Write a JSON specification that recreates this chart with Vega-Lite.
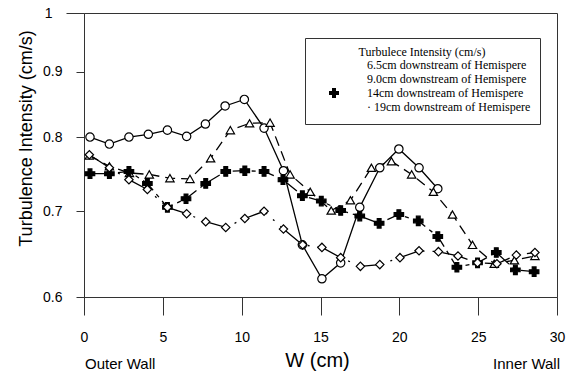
{
  "$schema": "https://vega.github.io/schema/vega-lite/v6.json",
  "width": 473,
  "height": 284,
  "autosize": {"type": "none"},
  "padding": {"left": 84, "top": 13, "right": 14, "bottom": 75},
  "background": "white",
  "config": {
    "view": {"stroke": "#333", "strokeWidth": 1},
    "axis": {
      "labelFont": "Liberation Sans", "labelFontSize": 14, "labelColor": "black",
      "titleFont": "Liberation Sans", "titleFontWeight": "normal", "titleColor": "black",
      "domainColor": "#333", "tickColor": "#333", "grid": false
    },
    "legend": {
      "padding": 9, "strokeColor": "#333", "fillColor": "white",
      "titleFont": "Liberation Serif", "titleFontSize": 12, "titleFontWeight": "normal", "titleColor": "black",
      "labelFont": "Liberation Serif", "labelFontSize": 12, "labelColor": "black"
    }
  },
  "datasets": {
    "ti": [
      {"series": "6.5cm downstream of Hemispere", "w": 0.38, "ti": 0.800},
      {"series": "6.5cm downstream of Hemispere", "w": 1.61, "ti": 0.790},
      {"series": "6.5cm downstream of Hemispere", "w": 2.85, "ti": 0.800},
      {"series": "6.5cm downstream of Hemispere", "w": 4.08, "ti": 0.804},
      {"series": "6.5cm downstream of Hemispere", "w": 5.29, "ti": 0.810},
      {"series": "6.5cm downstream of Hemispere", "w": 6.51, "ti": 0.801},
      {"series": "6.5cm downstream of Hemispere", "w": 7.70, "ti": 0.819},
      {"series": "6.5cm downstream of Hemispere", "w": 8.95, "ti": 0.846},
      {"series": "6.5cm downstream of Hemispere", "w": 10.17, "ti": 0.856},
      {"series": "6.5cm downstream of Hemispere", "w": 11.42, "ti": 0.813},
      {"series": "6.5cm downstream of Hemispere", "w": 12.65, "ti": 0.753},
      {"series": "6.5cm downstream of Hemispere", "w": 13.85, "ti": 0.659},
      {"series": "6.5cm downstream of Hemispere", "w": 15.09, "ti": 0.620},
      {"series": "6.5cm downstream of Hemispere", "w": 16.28, "ti": 0.638},
      {"series": "6.5cm downstream of Hemispere", "w": 17.49, "ti": 0.705},
      {"series": "6.5cm downstream of Hemispere", "w": 18.76, "ti": 0.757},
      {"series": "6.5cm downstream of Hemispere", "w": 19.97, "ti": 0.783},
      {"series": "6.5cm downstream of Hemispere", "w": 21.25, "ti": 0.757},
      {"series": "6.5cm downstream of Hemispere", "w": 22.44, "ti": 0.729},

      {"series": "9.0cm downstream of Hemispere", "w": 0.34, "ti": 0.774},
      {"series": "9.0cm downstream of Hemispere", "w": 1.61, "ti": 0.759},
      {"series": "9.0cm downstream of Hemispere", "w": 2.88, "ti": 0.750},
      {"series": "9.0cm downstream of Hemispere", "w": 4.14, "ti": 0.748},
      {"series": "9.0cm downstream of Hemispere", "w": 5.45, "ti": 0.743},
      {"series": "9.0cm downstream of Hemispere", "w": 6.72, "ti": 0.742},
      {"series": "9.0cm downstream of Hemispere", "w": 8.03, "ti": 0.770},
      {"series": "9.0cm downstream of Hemispere", "w": 9.28, "ti": 0.810},
      {"series": "9.0cm downstream of Hemispere", "w": 10.5, "ti": 0.820},
      {"series": "9.0cm downstream of Hemispere", "w": 11.8, "ti": 0.821},
      {"series": "9.0cm downstream of Hemispere", "w": 13.07, "ti": 0.748},
      {"series": "9.0cm downstream of Hemispere", "w": 14.35, "ti": 0.725},
      {"series": "9.0cm downstream of Hemispere", "w": 15.68, "ti": 0.701},
      {"series": "9.0cm downstream of Hemispere", "w": 16.9, "ti": 0.714},
      {"series": "9.0cm downstream of Hemispere", "w": 18.23, "ti": 0.757},
      {"series": "9.0cm downstream of Hemispere", "w": 19.5, "ti": 0.766},
      {"series": "9.0cm downstream of Hemispere", "w": 20.78, "ti": 0.748},
      {"series": "9.0cm downstream of Hemispere", "w": 22.16, "ti": 0.725},
      {"series": "9.0cm downstream of Hemispere", "w": 23.37, "ti": 0.696},
      {"series": "9.0cm downstream of Hemispere", "w": 24.64, "ti": 0.659},
      {"series": "9.0cm downstream of Hemispere", "w": 26.02, "ti": 0.637},
      {"series": "9.0cm downstream of Hemispere", "w": 27.3, "ti": 0.641},
      {"series": "9.0cm downstream of Hemispere", "w": 28.6, "ti": 0.646},

      {"series": "14cm downstream of Hemispere", "w": 0.38, "ti": 0.749},
      {"series": "14cm downstream of Hemispere", "w": 1.61, "ti": 0.749},
      {"series": "14cm downstream of Hemispere", "w": 2.85, "ti": 0.752},
      {"series": "14cm downstream of Hemispere", "w": 4.02, "ti": 0.736},
      {"series": "14cm downstream of Hemispere", "w": 5.29, "ti": 0.705},
      {"series": "14cm downstream of Hemispere", "w": 6.47, "ti": 0.716},
      {"series": "14cm downstream of Hemispere", "w": 7.72, "ti": 0.736},
      {"series": "14cm downstream of Hemispere", "w": 8.99, "ti": 0.752},
      {"series": "14cm downstream of Hemispere", "w": 10.2, "ti": 0.753},
      {"series": "14cm downstream of Hemispere", "w": 11.42, "ti": 0.752},
      {"series": "14cm downstream of Hemispere", "w": 12.62, "ti": 0.741},
      {"series": "14cm downstream of Hemispere", "w": 13.85, "ti": 0.720},
      {"series": "14cm downstream of Hemispere", "w": 15.05, "ti": 0.713},
      {"series": "14cm downstream of Hemispere", "w": 16.28, "ti": 0.701},
      {"series": "14cm downstream of Hemispere", "w": 17.49, "ti": 0.694},
      {"series": "14cm downstream of Hemispere", "w": 18.72, "ti": 0.685},
      {"series": "14cm downstream of Hemispere", "w": 19.97, "ti": 0.696},
      {"series": "14cm downstream of Hemispere", "w": 21.2, "ti": 0.688},
      {"series": "14cm downstream of Hemispere", "w": 22.44, "ti": 0.669},
      {"series": "14cm downstream of Hemispere", "w": 23.65, "ti": 0.633},
      {"series": "14cm downstream of Hemispere", "w": 24.96, "ti": 0.638},
      {"series": "14cm downstream of Hemispere", "w": 26.15, "ti": 0.650},
      {"series": "14cm downstream of Hemispere", "w": 27.36, "ti": 0.630},
      {"series": "14cm downstream of Hemispere", "w": 28.55, "ti": 0.628},

      {"series": "19cm downstream of Hemispere", "w": 0.34, "ti": 0.775},
      {"series": "19cm downstream of Hemispere", "w": 1.61, "ti": 0.757},
      {"series": "19cm downstream of Hemispere", "w": 2.85, "ti": 0.741},
      {"series": "19cm downstream of Hemispere", "w": 4.02, "ti": 0.728},
      {"series": "19cm downstream of Hemispere", "w": 5.29, "ti": 0.705},
      {"series": "19cm downstream of Hemispere", "w": 6.51, "ti": 0.697},
      {"series": "19cm downstream of Hemispere", "w": 7.72, "ti": 0.687},
      {"series": "19cm downstream of Hemispere", "w": 8.99, "ti": 0.680},
      {"series": "19cm downstream of Hemispere", "w": 10.2, "ti": 0.691},
      {"series": "19cm downstream of Hemispere", "w": 11.42, "ti": 0.700},
      {"series": "19cm downstream of Hemispere", "w": 12.65, "ti": 0.678},
      {"series": "19cm downstream of Hemispere", "w": 13.87, "ti": 0.659},
      {"series": "19cm downstream of Hemispere", "w": 15.09, "ti": 0.656},
      {"series": "19cm downstream of Hemispere", "w": 16.28, "ti": 0.644},
      {"series": "19cm downstream of Hemispere", "w": 17.53, "ti": 0.634},
      {"series": "19cm downstream of Hemispere", "w": 18.76, "ti": 0.636},
      {"series": "19cm downstream of Hemispere", "w": 20.04, "ti": 0.644},
      {"series": "19cm downstream of Hemispere", "w": 21.25, "ti": 0.652},
      {"series": "19cm downstream of Hemispere", "w": 22.48, "ti": 0.651},
      {"series": "19cm downstream of Hemispere", "w": 23.72, "ti": 0.646},
      {"series": "19cm downstream of Hemispere", "w": 24.96, "ti": 0.638},
      {"series": "19cm downstream of Hemispere", "w": 26.19, "ti": 0.637},
      {"series": "19cm downstream of Hemispere", "w": 27.42, "ti": 0.647},
      {"series": "19cm downstream of Hemispere", "w": 28.6, "ti": 0.650}
    ]
  },
  "layer": [
    {
      "data": {"name": "ti"},
      "encoding": {
        "x": {
          "field": "w", "type": "quantitative",
          "scale": {"domain": [0, 30], "nice": false, "zero": false},
          "axis": {
            "values": [0, 2.5, 5, 7.5, 10, 12.5, 15, 17.5, 20, 22.5, 25, 27.5, 30],
            "labelExpr": "datum.value % 5 == 0 ? format(datum.value, 'd') : ''",
            "tickSize": {"condition": {"test": "datum.value % 5 != 0", "value": 9}, "value": 18},
            "labelPadding": 15, "labelFlush": false, "labelOverlap": false, "labelBound": false,
            "title": "W (cm)", "titleFontSize": 20, "titleBaseline": "alphabetic",
            "titleAlign": "center", "titleX": 233, "titleY": 69
          }
        },
        "y": {
          "field": "ti", "type": "quantitative",
          "scale": {"type": "log", "domain": [0.6, 1], "nice": false, "zero": false},
          "axis": {
            "values": [0.6, 0.7, 0.8, 0.9, 1],
            "labelExpr": "datum.value == 1 ? '1' : format(datum.value, '.1f')",
            "tickSize": {"condition": {"test": "datum.value == 1", "value": 18}, "value": 8},
            "labelPadding": 14,
            "title": "Turbulence Intensity (cm/s)", "titleFontSize": 18,
            "titleBaseline": "alphabetic", "titleAlign": "center", "titleAngle": -90,
            "titleX": -53, "titleY": 125
          }
        }
      },
      "layer": [
        {
          "transform": [{"filter": "datum.series == '6.5cm downstream of Hemispere'"}],
          "mark": {"type": "line", "stroke": "black", "strokeWidth": 1.3}
        },
        {
          "transform": [{"filter": "datum.series == '9.0cm downstream of Hemispere'"}],
          "mark": {"type": "line", "stroke": "black", "strokeWidth": 1.3, "strokeDash": [10, 6]}
        },
        {
          "transform": [{"filter": "datum.series == '14cm downstream of Hemispere'"}],
          "mark": {"type": "line", "stroke": "black", "strokeWidth": 1.3, "strokeDash": [14, 5, 4, 5]}
        },
        {
          "transform": [{"filter": "datum.series == '19cm downstream of Hemispere'"}],
          "mark": {"type": "line", "stroke": "black", "strokeWidth": 1.3, "strokeDash": [26, 8, 2, 8]}
        },
        {
          "mark": {"type": "point", "filled": true, "stroke": "black", "strokeWidth": 1.2, "opacity": 1},
          "encoding": {
            "shape": {
              "field": "series", "type": "nominal",
              "scale": {
                "domain": ["6.5cm downstream of Hemispere", "9.0cm downstream of Hemispere", "14cm downstream of Hemispere", "19cm downstream of Hemispere"],
                "range": ["circle", "triangle-up", "cross", "diamond"]
              },
              "legend": {
                "title": "Turbulece Intensity (cm/s)",
                "orient": "none", "legendX": 221, "legendY": 25,
                "titleAnchor": "middle", "titlePadding": 0,
                "symbolSize": 100, "symbolStrokeWidth": 1.5, "symbolStrokeColor": "black",
                "symbolOffset": 14, "labelOffset": 27, "rowPadding": -3, "labelLimit": 400,
                "labelExpr": "(datum.label == '14cm downstream of Hemispere' ? '\u00a0' : datum.label == '19cm downstream of Hemispere' ? '· ' : '') + datum.label",
                "encode": {
                  "symbols": {
                    "stroke": {"value": "black"},
                    "strokeWidth": {"value": 1.5}
                  }
                }
              }
            },
            "fill": {
              "field": "series", "type": "nominal",
              "scale": {
                "domain": ["6.5cm downstream of Hemispere", "9.0cm downstream of Hemispere", "14cm downstream of Hemispere", "19cm downstream of Hemispere"],
                "range": ["white", "white", "black", "white"]
              }
            },
            "size": {"condition": {"test": "datum.series == '14cm downstream of Hemispere'", "value": 90}, "value": 70}
          }
        }
      ]
    },
    {
      "data": {"values": [{"w": 0, "label": "Outer Wall"}]},
      "mark": {"type": "text", "align": "left", "baseline": "alphabetic", "font": "Liberation Sans", "fontSize": 15, "color": "black", "dx": 1},
      "encoding": {
        "x": {"field": "w", "type": "quantitative"},
        "y": {"datum": 0.527},
        "text": {"field": "label"}
      }
    },
    {
      "data": {"values": [{"w": 30, "label": "Inner Wall"}]},
      "mark": {"type": "text", "align": "right", "baseline": "alphabetic", "font": "Liberation Sans", "fontSize": 15, "color": "black", "dx": 3},
      "encoding": {
        "x": {"field": "w", "type": "quantitative"},
        "y": {"datum": 0.527},
        "text": {"field": "label"}
      }
    }
  ]
}
